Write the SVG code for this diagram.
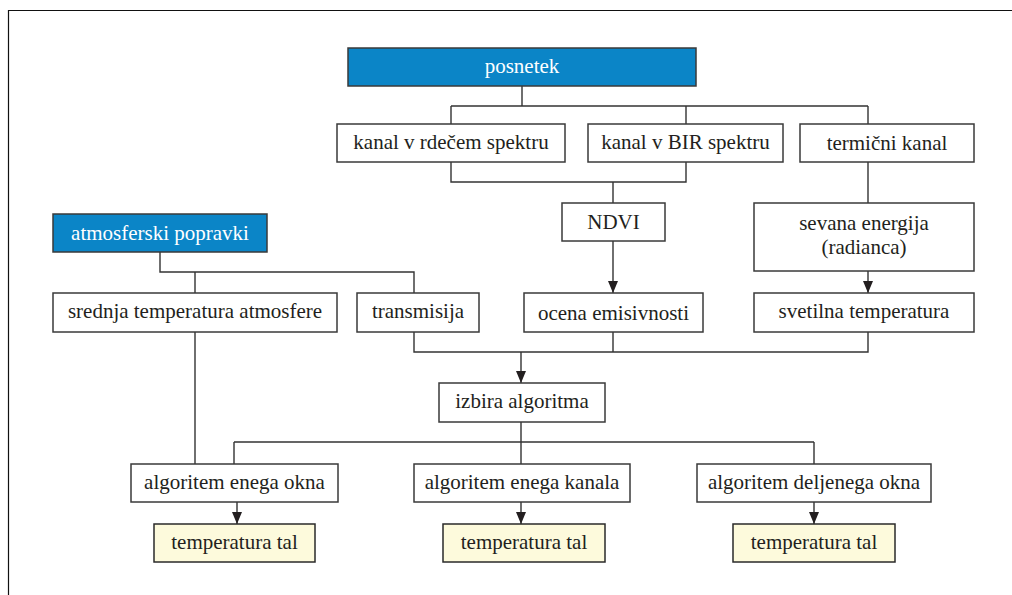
<svg xmlns="http://www.w3.org/2000/svg" width="1012" height="595" viewBox="0 0 1012 595">
<defs>
<style>
.box{fill:#ffffff;stroke:#3a3a3a;stroke-width:1.5}
.blue{fill:#0b85c7;stroke:#3a3a3a;stroke-width:1.5}
.yel{fill:#fdfadc;stroke:#2a2a2a;stroke-width:1.5}
text{font-family:"Liberation Serif","DejaVu Serif",serif;font-size:21px;fill:#231f20;text-anchor:middle}
.w{fill:#ffffff}
.ln{fill:none;stroke:#333333;stroke-width:1.4}
</style>
<marker id="ah" viewBox="0 0 12 10" refX="12" refY="5" markerWidth="12" markerHeight="10" markerUnits="userSpaceOnUse" orient="auto">
<path d="M0,0 L12,5 L0,10 Z" fill="#231f20"/>
</marker>
</defs>
<rect x="0" y="0" width="1012" height="595" fill="#ffffff"/>
<path d="M8.5,600 V10.5 H1020" fill="none" stroke="#111111" stroke-width="1.2"/>

<g id="connectors">
<path class="ln" d="M522,86 V106 M451,106 H868 M451,106 V124 M686,106 V124 M868,106 V124"/>
<path class="ln" d="M451,162 V182 H686 V162 M613,182 V203"/>
<path class="ln" d="M613,241 V293" marker-end="url(#ah)"/>
<path class="ln" d="M868,162 V203"/>
<path class="ln" d="M868,271 V293" marker-end="url(#ah)"/>
<path class="ln" d="M160,252 V272 H414 V293 M195,272 V293"/>
<path class="ln" d="M414,332 V352 H868 V332 M613,332 V352"/>
<path class="ln" d="M521,352 V383" marker-end="url(#ah)"/>
<path class="ln" d="M521,422 V442 M234,442 H814 M234,442 V464 M521,442 V464 M814,442 V464"/>
<path class="ln" d="M195,332 V464"/>
<path class="ln" d="M237,502 V524" marker-end="url(#ah)"/>
<path class="ln" d="M521,502 V524" marker-end="url(#ah)"/>
<path class="ln" d="M814,502 V524" marker-end="url(#ah)"/>
</g>

<g id="posnetek"><rect class="blue" x="348" y="48" width="348" height="38"/><text class="w" x="522" y="73">posnetek</text></g>
<g id="kanal-rdece"><rect class="box" x="337" y="124" width="228" height="38"/><text x="451" y="149">kanal v rdečem spektru</text></g>
<g id="kanal-bir"><rect class="box" x="588" y="124" width="195" height="38"/><text x="685.5" y="149">kanal v BIR spektru</text></g>
<g id="termicni"><rect class="box" x="800" y="124" width="174" height="38"/><text x="887" y="150">termični kanal</text></g>
<g id="ndvi"><rect class="box" x="562" y="203" width="103" height="38"/><text x="613.5" y="229">NDVI</text></g>
<g id="sevana"><rect class="box" x="754" y="203" width="220" height="68"/><text x="864" y="230">sevana energija</text><text x="864" y="254">(radianca)</text></g>
<g id="atmosferski"><rect class="blue" x="53" y="214" width="214" height="38"/><text class="w" x="160" y="240">atmosferski popravki</text></g>
<g id="srednja"><rect class="box" x="53" y="293" width="284" height="39"/><text x="195" y="318">srednja temperatura atmosfere</text></g>
<g id="transmisija"><rect class="box" x="357" y="293" width="122" height="39"/><text x="418" y="318">transmisija</text></g>
<g id="ocena"><rect class="box" x="524" y="293" width="179" height="39"/><text x="613.5" y="320">ocena emisivnosti</text></g>
<g id="svetilna"><rect class="box" x="754" y="293" width="220" height="39"/><text x="864" y="318">svetilna temperatura</text></g>
<g id="izbira"><rect class="box" x="439" y="383" width="166" height="39"/><text x="522" y="408">izbira algoritma</text></g>
<g id="alg-okna"><rect class="box" x="131" y="464" width="207" height="38"/><text x="234.5" y="489">algoritem enega okna</text></g>
<g id="alg-kanala"><rect class="box" x="414" y="464" width="216" height="38"/><text x="522" y="489">algoritem enega kanala</text></g>
<g id="alg-deljenega"><rect class="box" x="697" y="464" width="234" height="38"/><text x="814" y="489">algoritem deljenega okna</text></g>
<g id="tal1"><rect class="yel" x="154" y="524" width="161" height="38"/><text x="234.5" y="549">temperatura tal</text></g>
<g id="tal2"><rect class="yel" x="443" y="524" width="162" height="38"/><text x="524" y="549">temperatura tal</text></g>
<g id="tal3"><rect class="yel" x="733" y="524" width="162" height="38"/><text x="814" y="549">temperatura tal</text></g>
</svg>
